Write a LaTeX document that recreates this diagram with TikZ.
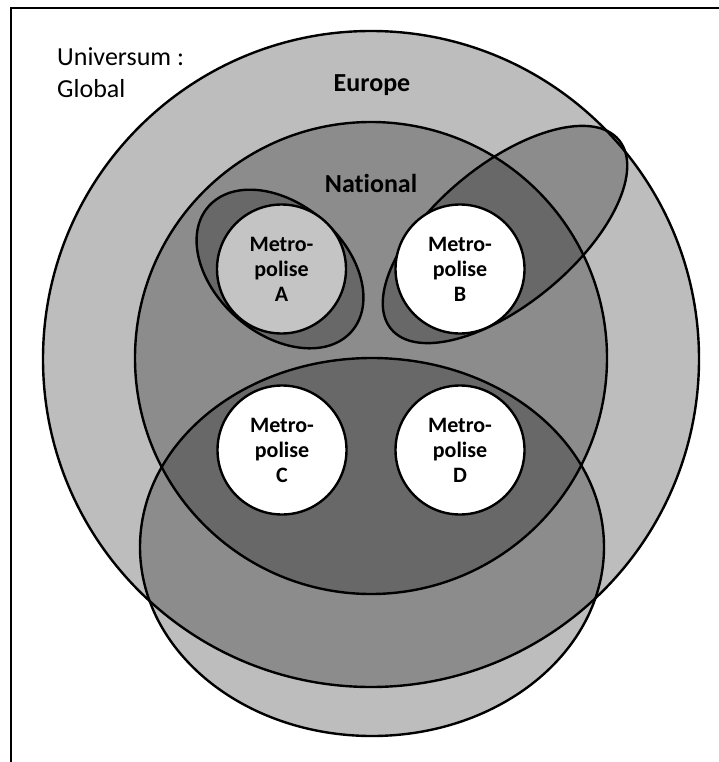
\documentclass[tikz,border=0pt]{standalone}
\usepackage{fontspec}
\setmainfont{Carlito}[Ligatures=NoCommon]
\begin{document}
\begin{tikzpicture}[x=1pt,y=-1pt,
  region/.style={draw=black, line width=2.4pt, fill=black, fill opacity=0.26},
  metro/.style={circle, draw=black, line width=2.4pt, minimum size=129pt, inner sep=0pt,
    align=center, font=\fontsize{22}{25}\selectfont\bfseries, fill=white},
  lbl/.style={inner sep=0pt, font=\fontsize{26}{32}\selectfont},
  frame/.style={draw=black, line width=2.4pt}]
\useasboundingbox (0,0) rectangle (719,762);
% frame (top and left edges only)
\coordinate (ftl) at (11,8);
\coordinate (ftr) at (719,8);
\coordinate (fbl) at (11,762);
\draw[frame] (fbl) -- (ftl) -- (ftr);
% regions
\draw[region] (371,359) circle [radius=328];
\draw[region] (371,358) circle [radius=236];
\draw[region] (372,547) ellipse [x radius=232, y radius=189];
\draw[region, rotate around={-41:(280,269)}] (280,269) ellipse [x radius=95, y radius=65];
\draw[region, rotate around={39.7:(505,234.5)}] (505,234.5) ellipse [x radius=148, y radius=69.5];
% metropolises
\node[metro, fill={rgb,255:red,196;green,196;blue,196}] (A) at (281.5,269) {Metro-\\polise\\A};
\node[metro] (B) at (460,269) {Metro-\\polise\\B};
\node[metro] (C) at (282,450) {Metro-\\polise\\C};
\node[metro] (D) at (460,450) {Metro-\\polise\\D};
% labels
\node[lbl, anchor=base west, align=left] (univ) at (57,98) {Universum :\\Global};
\node[lbl, font=\fontsize{26}{32}\selectfont\bfseries, anchor=base] (europe) at (372,92) {Europe};
\node[lbl, font=\fontsize{26}{32}\selectfont\bfseries, anchor=base] (national) at (371,193) {National};
\end{tikzpicture}
\end{document}
